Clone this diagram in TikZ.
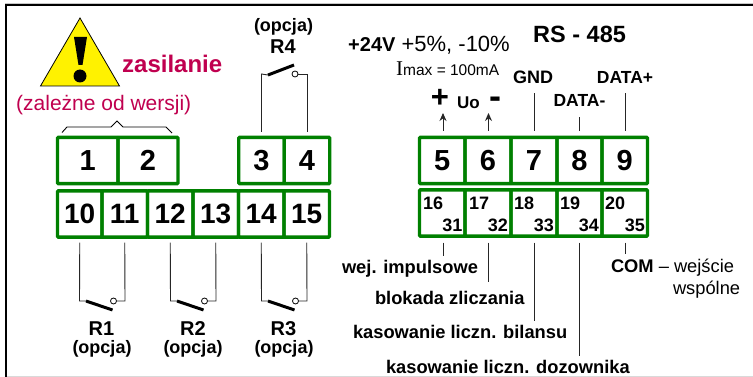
\documentclass[tikz,border=0pt]{standalone}
\usepackage{fontspec}
\setmainfont{Liberation Sans}
\newfontfamily\serifI{Liberation Serif}
\usetikzlibrary{arrows.meta}
\definecolor{termgreen}{HTML}{008000}
\definecolor{warnred}{HTML}{C0004F}
\newcommand{\fs}[1]{\fontsize{#1}{#1}\selectfont}
\tikzset{
  x=1pt,y=-1pt,
  termbox/.style={draw=termgreen,line width=3.4pt,rounded corners=1pt,inner sep=0pt,outer sep=0pt,
     minimum height=46.3pt,font=\bfseries\fs{#1},anchor=center},
  termbox/.default=28,
  wire/.style={draw=black!85,line width=0.9pt},
  contact/.style={draw=black,line width=3pt},
  pivot/.style={draw=black,fill=white,line width=0.8pt,circle,minimum size=6pt,inner sep=0pt,outer sep=0pt},
  lblw/.style={inner sep=0pt,outer sep=0pt,anchor=base west,font=\bfseries\fs{18.3}},
  sub/.style={inner sep=0pt,outer sep=0pt,anchor=base,font=\bfseries\fs{18}},
  rname/.style={inner sep=0pt,outer sep=0pt,anchor=center,font=\bfseries\fs{20}},
  ropt/.style={inner sep=0pt,outer sep=0pt,anchor=center,font=\bfseries\fs{18}},
}
\newcommand{\term}[6][28]{\node[termbox=#1,minimum width=#5pt] (#2) at (#3,#4) {#6};}
\begin{document}
\begin{tikzpicture}
\useasboundingbox (0,0) rectangle (753,377);
\fill[white] (0,0) rectangle (753,377);
% frame
\fill[black!22] (5,3) rectangle (753,4);
\fill[black!15] (7,376) rectangle (753,377);
\fill[black] (5,4) rectangle (753,6);
\fill[black] (5,4) rectangle (7,377);
% warning triangle
\draw[fill=yellow,line width=0.8pt,line join=miter] (80,18) -- (119.5,86) -- (40.5,86) -- cycle;
\fill[black] (74,37) -- (87,37) -- (82.5,65) -- (78.5,65) -- cycle;
\fill[black] (80,76) circle (6.5);
\node[inner sep=0pt,anchor=base west,text=warnred,font=\bfseries\fs{24}] (zas) at (122,73) {zasilanie};
\node[inner sep=0pt,anchor=base west,text=warnred,font=\fs{21}] (zal) at (16,111) {(zależne od wersji)};
% brace
\draw[line width=0.9pt] (62,132.5) -- (67,127) -- (111,127) -- (117,121) -- (123,127) -- (166,127) -- (172,133);
% terminals row 1
\term[29]{t1}{87.75}{160.5}{60.5}{1}
\term[29]{t2}{148}{160.5}{60}{2}
\term[29]{t3}{261.5}{160.5}{45.5}{3}
\term[29]{t4}{307}{160.5}{45.5}{4}
\term[29]{t5}{442.25}{160.5}{45.5}{5}
\term[29]{t6}{488}{160.5}{46}{6}
\term[29]{t7}{534}{160.5}{46}{7}
\term[29]{t8}{579.5}{160.5}{45}{8}
\term[29]{t9}{624.75}{160.5}{45.5}{9}
% terminals row 2 left
\term{t10}{79.75}{214}{44.5}{10}
\term{t11}{124.75}{214}{45.5}{11}
\term{t12}{170.25}{214}{45.5}{12}
\term{t13}{215.75}{214}{45.5}{13}
\term{t14}{261.25}{214}{45.5}{14}
\term{t15}{306.75}{214}{45.5}{15}
% terminals row 2 right
\term{t16}{442.25}{213}{45.5}{}
\term{t17}{488}{213}{46}{}
\term{t18}{534}{213}{46}{}
\term{t19}{579.5}{213}{45}{}
\term{t20}{624.75}{213}{45.5}{}
% double numbers
\node[sub,anchor=base west] (n16) at (423,210) {16};
\node[sub,anchor=base east] (n31) at (462.5,232) {31};
\node[sub,anchor=base west] (n17) at (469,210) {17};
\node[sub,anchor=base east] (n32) at (508,232) {32};
\node[sub,anchor=base west] (n18) at (514,210) {18};
\node[sub,anchor=base east] (n33) at (554,232) {33};
\node[sub,anchor=base west] (n19) at (560,210) {19};
\node[sub,anchor=base east] (n34) at (599,232) {34};
\node[sub,anchor=base west] (n20) at (605,210) {20};
\node[sub,anchor=base east] (n35) at (645,232) {35};
% relay R4
\coordinate (r4l) at (261.5,74);
\coordinate (r4r) at (307,74);
\coordinate (r4a) at (268,75);
\coordinate (r4b) at (294,65);
\node[pivot] (r4p) at (295,74) {};
\draw[wire] ([yshift=5.5pt]t3.north) -- (r4l) -- (r4a);
\draw[wire] ([yshift=5.5pt]t4.north) -- (r4r) -- (r4p);
\draw[contact] (r4a) -- (r4b);
\node[rname] (r4) at (283,47) {R4};
\node[ropt] (o4) at (283.5,27) {(opcja)};
% relay R1
\coordinate (r1l) at (79.5,301);
\coordinate (r1r) at (125,301);
\coordinate (r1a) at (86,301);
\coordinate (r1b) at (112.5,310);
\node[pivot] (r1p) at (113.5,301) {};
\draw[wire] ([yshift=-5.5pt]t10.south) -- (r1l) -- (r1a);
\draw[wire] ([yshift=-5.5pt]t11.south) -- (r1r) -- (r1p);
\draw[contact] (r1a) -- (r1b);
\node[rname] (r1) at (101.5,328.5) {R1};
\node[ropt] (o1) at (102,349) {(opcja)};
% relay R2
\coordinate (r2l) at (170.5,301);
\coordinate (r2r) at (216,301);
\coordinate (r2a) at (177,301);
\coordinate (r2b) at (203.5,310);
\node[pivot] (r2p) at (204.5,301) {};
\draw[wire] ([yshift=-5.5pt]t12.south) -- (r2l) -- (r2a);
\draw[wire] ([yshift=-5.5pt]t13.south) -- (r2r) -- (r2p);
\draw[contact] (r2a) -- (r2b);
\node[rname] (r2) at (193,328.5) {R2};
\node[ropt] (o2) at (193,349) {(opcja)};
% relay R3
\coordinate (r3l) at (261.5,301);
\coordinate (r3r) at (307,301);
\coordinate (r3a) at (268,301);
\coordinate (r3b) at (294.5,310);
\node[pivot] (r3p) at (295.5,301) {};
\draw[wire] ([yshift=-5.5pt]t14.south) -- (r3l) -- (r3a);
\draw[wire] ([yshift=-5.5pt]t15.south) -- (r3r) -- (r3p);
\draw[contact] (r3a) -- (r3b);
\node[rname] (r3) at (283.5,328.5) {R3};
\node[ropt] (o3) at (284,349) {(opcja)};
% supply texts
\node[inner sep=0pt,anchor=base west,font=\fs{22}] (sup) at (348,52) {{\bfseries\fs{20}+24V} +5\%, -10\%};
\node[inner sep=0pt,anchor=base west,font=\fs{15.5}] (imax) at (396,76) {{\serifI\fs{21}I}max = 100mA};
\node[inner sep=0pt,anchor=base west,font=\bfseries\fs{23.5}] (rs) at (533,43) {RS - 485};
\node[inner sep=0pt,anchor=base,font=\bfseries\fs{18}] (gnd) at (533,84) {GND};
\node[inner sep=0pt,anchor=base,font=\bfseries\fs{17.5}] (dp) at (625,84) {DATA+};
\node[inner sep=0pt,anchor=base,font=\bfseries\fs{17.5}] (dm) at (579.5,107) {DATA-};
\node[inner sep=0pt,anchor=center,font=\bfseries\fs{31}] (plus) at (440,98) {+};
\node[inner sep=0pt,anchor=center,font=\bfseries\fs{36}] (minus) at (495.5,103) {-};
\node[inner sep=0pt,anchor=base,font=\bfseries\fs{17}] (uo) at (468.5,109) {Uo};
% upper connectors
\coordinate (a5) at (443,113);
\coordinate (a6) at (488.5,113);
\coordinate (e7) at (534,93);
\coordinate (e8) at (579.5,117);
\coordinate (e9) at (625,93);
\draw[wire,-{Stealth[length=8pt,width=7pt]}] ([yshift=6.5pt,xshift=0.75pt]t5.north) -- (a5);
\draw[wire,-{Stealth[length=8pt,width=7pt]}] ([yshift=6.5pt,xshift=0.5pt]t6.north) -- (a6);
\draw[wire] ([yshift=6.5pt]t7.north) -- (e7);
\draw[wire] ([yshift=6.5pt]t8.north) -- (e8);
\draw[wire] ([yshift=6.5pt,xshift=0.25pt]t9.north) -- (e9);
% lower connectors
\coordinate (e16) at (443,256);
\coordinate (e17) at (488,282);
\coordinate (e18) at (534,321);
\coordinate (e19) at (579.5,356);
\coordinate (e20) at (625,254);
\draw[wire] ([yshift=-6.5pt,xshift=0.75pt]t16.south) -- (e16);
\draw[wire] ([yshift=-6.5pt]t17.south) -- (e17);
\draw[wire] ([yshift=-6.5pt]t18.south) -- (e18);
\draw[wire] ([yshift=-6.5pt]t19.south) -- (e19);
\draw[wire] ([yshift=-6.5pt,xshift=0.25pt]t20.south) -- (e20);
% lower labels
\node[lblw] (l1) at (342,273) {wej. impulsowe};
\node[lblw] (l2) at (375,304) {blokada zliczania};
\node[lblw] (l3) at (353,338) {kasowanie liczn. bilansu};
\node[lblw] (l4) at (386,373) {kasowanie liczn. dozownika};
\node[lblw,font=\fs{18.3}] (l5) at (611,272) {\textbf{COM} – wejście};
\node[lblw,font=\fs{18.3}] (l6) at (673,294) {wspólne};
\end{tikzpicture}
\end{document}
